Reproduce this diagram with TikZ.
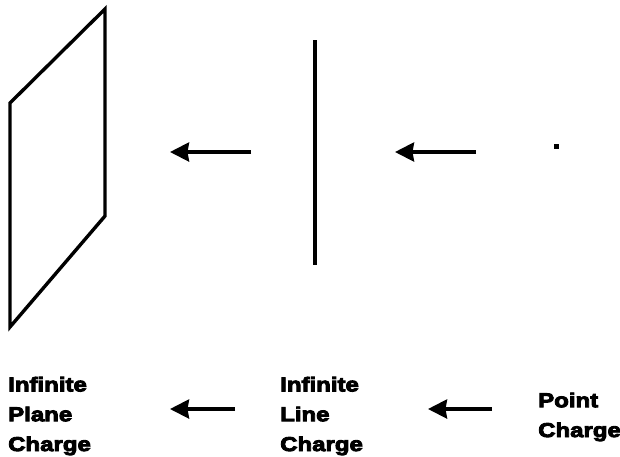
\documentclass[tikz,border=0pt]{standalone}
\usepackage{fontspec}
\newfontfamily\blk{Liberation Sans}[FakeStretch=1.2,FakeBold=4.5]
\usetikzlibrary{arrows.meta}
\begin{document}
\begin{tikzpicture}[x=1pt,y=-1pt,
  shape line/.style={line width=3.4pt,line join=miter},
  flow/.style={line width=3.4pt,-{Triangle[length=19pt,width=19pt,inset=1.5pt]}},
  label text/.style={anchor=base west,align=left,inner sep=0pt,
    font=\blk\bfseries\fontsize{20}{29.8}\selectfont}]
\useasboundingbox (0,0) rectangle (620,456);
% infinite plane
\coordinate (p1) at (10,103);
\coordinate (p2) at (105,9);
\coordinate (p3) at (105,216);
\coordinate (p4) at (10,327);
\draw[shape line] (p1) -- (p2) -- (p3) -- (p4) -- cycle;
% infinite line
\coordinate (l1) at (315,40);
\coordinate (l2) at (315,265);
\draw[shape line] (l1) -- (l2);
% point charge
\node[fill=black,minimum size=5pt,inner sep=0pt] (pt) at (556,146) {};
% top arrows
\coordinate (a1s) at (251,152);
\coordinate (a1e) at (170,152);
\coordinate (a2s) at (476,152);
\coordinate (a2e) at (395,152);
\draw[flow] (a1s) -- (a1e);
\draw[flow] (a2s) -- (a2e);
% labels (anchored at the baseline of the last line)
\node[label text] (tplane) at (8,451) {Infinite\\Plane\\Charge};
\node[label text] (tline) at (280,451) {Infinite\\Line\\Charge};
\node[label text] (tpoint) at (538,437) {Point\\Charge};
% bottom arrows
\coordinate (b1s) at (235,409);
\coordinate (b1e) at (170,409);
\coordinate (b2s) at (492,409);
\coordinate (b2e) at (428,409);
\draw[flow] (b1s) -- (b1e);
\draw[flow] (b2s) -- (b2e);
\end{tikzpicture}
\end{document}
